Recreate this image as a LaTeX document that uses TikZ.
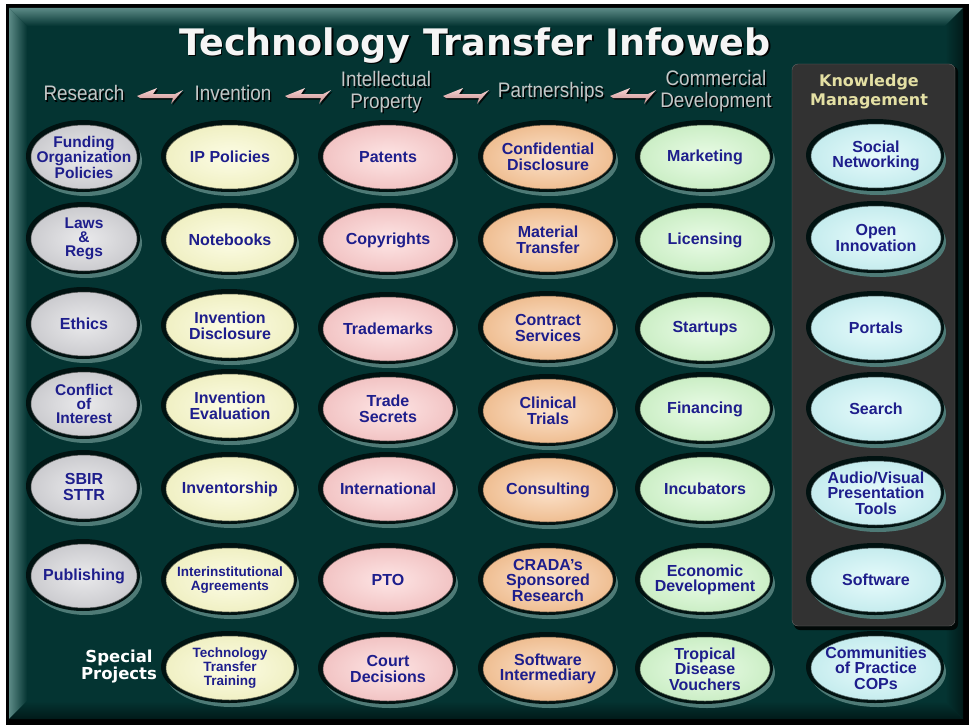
\documentclass[tikz,border=0pt]{standalone}
\usepackage{fontspec}
\setmainfont{Liberation Sans}
\newfontfamily\dvb{DejaVu Sans}
\definecolor{bg}{RGB}{4,52,50}
\definecolor{bevL}{RGB}{92,138,134}
\definecolor{bevD}{RGB}{1,26,25}
\definecolor{halo}{RGB}{78,122,118}
\definecolor{edk}{RGB}{1,18,17}
\definecolor{navy}{RGB}{30,30,140}
\definecolor{hdrc}{RGB}{196,200,200}
\definecolor{kmy}{RGB}{228,224,164}
\definecolor{kmbg}{RGB}{50,50,50}
\definecolor{arrL}{RGB}{250,214,214}
\definecolor{arrD}{RGB}{196,140,140}
\definecolor{cgray}{RGB}{212,212,216}
\definecolor{cyel}{RGB}{250,250,204}
\definecolor{cpink}{RGB}{252,204,204}
\definecolor{corg}{RGB}{249,198,152}
\definecolor{cgrn}{RGB}{212,248,206}
\definecolor{ccyan}{RGB}{206,246,248}
\newcommand\shd[2][black]{\makebox[0pt][l]{\kern1.5pt\raisebox{-1.5pt}{\textcolor{#1}{#2}}}#2}
\newcommand\hd[1]{\scalebox{0.9}[1]{\shd{#1}}}
\tikzset{
  etext/.style={font=\bfseries\fontsize{16}{15.5}\selectfont, text=navy, align=center, inner sep=0pt},
  tight/.style={font=\bfseries\fontsize{15.5}{13.3}\selectfont},
  smalltext/.style={font=\bfseries\fontsize{13.5}{14}\selectfont},
  hdr/.style={font=\fontsize{21}{21.5}\selectfont, text=hdrc, align=center, inner sep=0pt},
  kmtext/.style={font=\dvb\bfseries\fontsize{16}{19}\selectfont, text=kmy, align=center, inner sep=0pt},
  sptext/.style={font=\dvb\bfseries\fontsize{16.5}{17}\selectfont, text=white, align=center, inner sep=0pt},
  titletext/.style={font=\dvb\bfseries\fontsize{36.5}{40}\selectfont, inner sep=0pt, text=white!92!gray},
}
% [text style]{name}{x}{y}{colour}{x radius}{y radius}{text}
\newcommand\bub[8][]{%
  \fill[halo] (#3+2,#4+4) ellipse [x radius=#6+3, y radius=#7+3];
  \fill[edk] (#3-1,#4-1) ellipse [x radius=#6+4, y radius=#7+4];
  \shade[inner color=#5!50!white, outer color=#5!96!black] (#3,#4) ellipse [x radius=#6, y radius=#7];
  \draw[#5!40!black, line width=0.5pt] (#3,#4) ellipse [x radius=#6, y radius=#7];
  \node[etext,#1] (#2) at (#3,#4) {#8};
}
\newcommand\harrow[2]{%
  \begin{scope}[shift={(#1,#2)}]
    \fill[black!80!bg] (1.5,9.5)--(21.5,1.5)--(17.5,7.5)--(39.5,7.5)--(47.5,3.5)--(35.5,17.5)--(37.5,11.5)--(4.5,11.5)--cycle;
    \shade[top color=arrL, bottom color=arrD] (0,8)--(20,0)--(16,6)--(38,6)--(46,2)--(34,16)--(36,10)--(3,10)--cycle;
  \end{scope}}
\begin{document}
\begin{tikzpicture}[x=1pt,y=-1pt]
\useasboundingbox (0,0) rectangle (969,725);
\fill[white] (0,0) rectangle (969,725);
\fill[black] (6,4) rectangle (969,725);
\fill[bg] (9,8) rectangle (963,719);
% bevels
\shade[top color=bevL, bottom color=bg] (9,8) -- (963,8) -- (945,26) -- (27,26) -- cycle;
\shade[left color=bevL, right color=bg] (9,8) -- (27,26) -- (27,701) -- (9,719) -- cycle;
\shade[left color=bg, right color=bevD] (963,8) -- (963,719) -- (945,701) -- (945,26) -- cycle;
\shade[top color=bg, bottom color=bevD] (9,719) -- (27,701) -- (945,701) -- (963,719) -- cycle;
% Knowledge management panel
\fill[black!85!bg, rounded corners=6pt] (794,66) rectangle (958,630);
\draw[rounded corners=6pt, fill=kmbg, draw=black!60] (792,64) rectangle (955,626);
% title
\node[titletext] (title) at (475,46) {\shd[black]{Technology Transfer Infoweb}};
% headers
\node[hdr] (research) at (84,94) {\hd{Research}};
\node[hdr] (invention) at (233,94) {\hd{Invention}};
\node[hdr] (ipr) at (386,93) {\hd{Intellectual}\\\hd{Property}};
\node[hdr] (partner) at (551,93) {\hd{Partnerships}};
\node[hdr] (commercial) at (716,92) {\hd{Commercial}\\\hd{Development}};
\node[kmtext] (km) at (869,92) {Knowledge\\Management};
\harrow{137}{88}
\harrow{285}{88}
\harrow{443}{88}
\harrow{610}{88}
% column 1: research
\bub[tight]{funding}{84}{157}{cgray}{53}{32}{Funding\\Organization\\Policies}
\bub[font=\bfseries\fontsize{15.5}{14}\selectfont]{laws}{84}{239}{cgray}{53}{32}{Laws\\\&\\Regs}
\bub{ethics}{84}{324}{cgray}{53}{32}{Ethics}
\bub[font=\bfseries\fontsize{15.5}{13.8}\selectfont]{conflict}{84}{404}{cgray}{53}{32}{Conflict\\of\\Interest}
\bub{sbir}{84}{487}{cgray}{53}{32}{SBIR\\STTR}
\bub{publishing}{84}{576}{cgray}{53}{32}{Publishing}
% column 2: invention
\bub{ippol}{230}{157}{cyel}{64}{32}{IP Policies}
\bub{notebooks}{230}{240}{cyel}{64}{32}{Notebooks}
\bub{invdisc}{230}{326}{cyel}{64}{32}{Invention\\Disclosure}
\bub{inveval}{230}{406}{cyel}{64}{32}{Invention\\Evaluation}
\bub{inventorship}{230}{489}{cyel}{64}{32}{Inventorship}
\bub[smalltext]{interinst}{230}{580}{cyel}{64}{32}{Interinstitutional\\Agreements}
\bub[smalltext]{ttt}{230}{668}{cyel}{64}{32}{Technology\\Transfer\\Training}
% column 3: intellectual property
\bub{patents}{388}{157}{cpink}{65}{32}{Patents}
\bub{copyrights}{388}{240}{cpink}{65}{32}{Copyrights}
\bub{trademarks}{388}{329}{cpink}{65}{32}{Trademarks}
\bub{tradesecrets}{388}{409}{cpink}{65}{32}{Trade\\Secrets}
\bub{international}{388}{489}{cpink}{65}{32}{International}
\bub{pto}{388}{580}{cpink}{65}{32}{PTO}
\bub{court}{388}{669}{cpink}{65}{32}{Court\\Decisions}
% column 4: partnerships
\bub{confid}{548}{157}{corg}{65}{32}{Confidential\\Disclosure}
\bub{material}{548}{240}{corg}{65}{32}{Material\\Transfer}
\bub{contract}{548}{328}{corg}{65}{32}{Contract\\Services}
\bub{clinical}{548}{411}{corg}{65}{32}{Clinical\\Trials}
\bub{consulting}{548}{490}{corg}{65}{32}{Consulting}
\bub{crada}{548}{580}{corg}{65}{32}{CRADA's\\Sponsored\\Research}
\bub{softint}{548}{669}{corg}{65}{32}{Software\\Intermediary}
% column 5: commercial development
\bub{marketing}{705}{157}{cgrn}{65}{32}{Marketing}
\bub{licensing}{705}{240}{cgrn}{65}{32}{Licensing}
\bub{startups}{705}{329}{cgrn}{65}{32}{Startups}
\bub{financing}{705}{409}{cgrn}{65}{32}{Financing}
\bub{incubators}{705}{489}{cgrn}{65}{32}{Incubators}
\bub{econdev}{705}{580}{cgrn}{65}{32}{Economic\\Development}
\bub{tropical}{705}{669}{cgrn}{65}{32}{Tropical\\Disease\\Vouchers}
% column 6: knowledge management
\bub{social}{876}{156}{ccyan}{65}{32}{Social\\Networking}
\bub{openinn}{876}{238}{ccyan}{65}{32}{Open\\Innovation}
\bub{portals}{876}{328}{ccyan}{65}{32}{Portals}
\bub{search}{876}{409}{ccyan}{65}{32}{Search}
\bub{audio}{876}{493}{ccyan}{65}{32}{Audio/Visual\\Presentation\\Tools}
\bub{software}{876}{580}{ccyan}{65}{32}{Software}
\bub{cops}{876}{668}{ccyan}{65}{32}{Communities\\of Practice\\COPs}
% special projects
\node[sptext] (special) at (119,667) {Special\\Projects};
\end{tikzpicture}
\end{document}
